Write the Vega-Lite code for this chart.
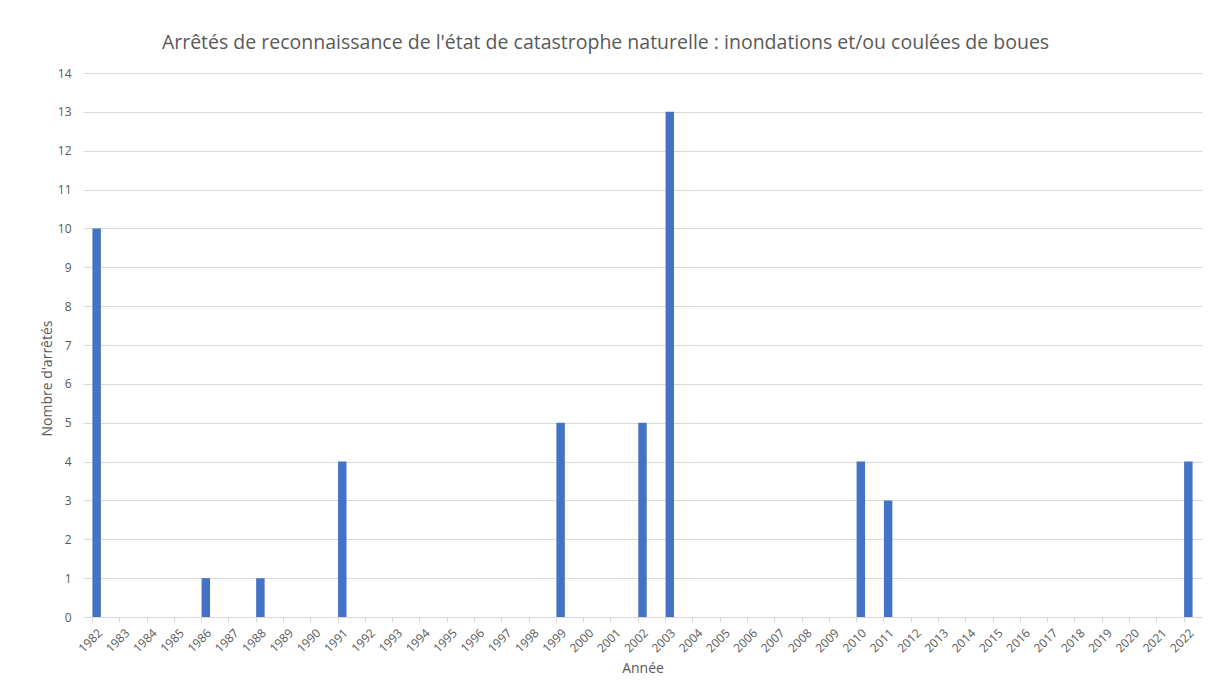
{
  "$schema": "https://vega.github.io/schema/vega-lite/v6.json",
  "autosize": {"type": "none"},
  "width": 1119,
  "height": 544,
  "padding": {"left": 83, "top": 73, "right": 7, "bottom": 80},
  "background": "white",
  "title": {
    "text": "Arrêtés de reconnaissance de l'état de catastrophe naturelle : inondations et/ou coulées de boues",
    "anchor": "middle",
    "frame": "group",
    "dx": -37,
    "dy": 26,
    "offset": 25,
    "baseline": "alphabetic",
    "font": "Open Sans",
    "fontSize": 19.5,
    "fontWeight": "normal",
    "color": "#595959"
  },
  "data": {
    "values": [
      {"annee": "1982", "n": 10}, {"annee": "1983", "n": 0}, {"annee": "1984", "n": 0},
      {"annee": "1985", "n": 0}, {"annee": "1986", "n": 1}, {"annee": "1987", "n": 0},
      {"annee": "1988", "n": 1}, {"annee": "1989", "n": 0}, {"annee": "1990", "n": 0},
      {"annee": "1991", "n": 4}, {"annee": "1992", "n": 0}, {"annee": "1993", "n": 0},
      {"annee": "1994", "n": 0}, {"annee": "1995", "n": 0}, {"annee": "1996", "n": 0},
      {"annee": "1997", "n": 0}, {"annee": "1998", "n": 0}, {"annee": "1999", "n": 5},
      {"annee": "2000", "n": 0}, {"annee": "2001", "n": 0}, {"annee": "2002", "n": 5},
      {"annee": "2003", "n": 13}, {"annee": "2004", "n": 0}, {"annee": "2005", "n": 0},
      {"annee": "2006", "n": 0}, {"annee": "2007", "n": 0}, {"annee": "2008", "n": 0},
      {"annee": "2009", "n": 0}, {"annee": "2010", "n": 4}, {"annee": "2011", "n": 3},
      {"annee": "2012", "n": 0}, {"annee": "2013", "n": 0}, {"annee": "2014", "n": 0},
      {"annee": "2015", "n": 0}, {"annee": "2016", "n": 0}, {"annee": "2017", "n": 0},
      {"annee": "2018", "n": 0}, {"annee": "2019", "n": 0}, {"annee": "2020", "n": 0},
      {"annee": "2021", "n": 0}, {"annee": "2022", "n": 4}
    ]
  },
  "mark": {"type": "bar", "color": "#4472C4"},
  "encoding": {
    "x": {
      "field": "annee",
      "type": "ordinal",
      "scale": {"paddingInner": 0.69, "paddingOuter": 0.345},
      "axis": {
        "title": "Année",
        "titleFont": "Open Sans",
        "titleFontSize": 14,
        "titleFontWeight": "normal",
        "titleColor": "#595959",
        "titlePadding": 7,
        "labelAngle": -45,
        "labelFont": "Open Sans",
        "labelFontSize": 12,
        "labelColor": "#595959",
        "labelPadding": 5,
        "bandPosition": 0,
        "labelOffset": 0,
        "grid": false,
        "domainColor": "#d9d9d9",
        "tickColor": "#d9d9d9",
        "tickSize": 5
      }
    },
    "y": {
      "field": "n",
      "type": "quantitative",
      "scale": {"domain": [0, 14]},
      "axis": {
        "title": "Nombre d'arrêtés",
        "titleFont": "Open Sans",
        "titleFontSize": 14,
        "titleFontWeight": "normal",
        "titleColor": "#595959",
        "titleX": -36,
        "titleY": 305,
        "titleAngle": -90,
        "titleAlign": "center",
        "titleBaseline": "middle",
        "values": [0,1,2,3,4,5,6,7,8,9,10,11,12,13,14],
        "labelFont": "Open Sans",
        "labelFontSize": 12,
        "labelColor": "#595959",
        "labelPadding": 12,
        "ticks": false,
        "domain": false,
        "grid": true,
        "gridColor": "#d9d9d9",
        "gridWidth": 1
      }
    }
  },
  "config": {"view": {"stroke": null}}
}
